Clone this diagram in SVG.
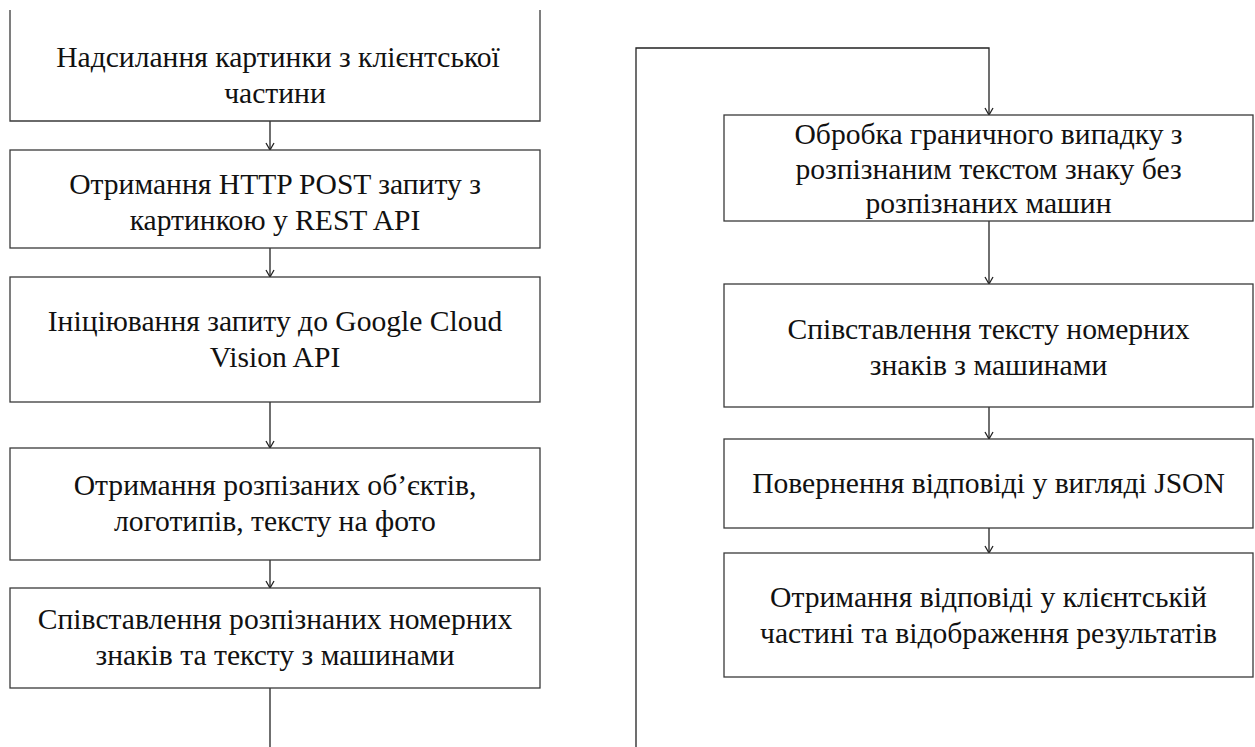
<svg xmlns="http://www.w3.org/2000/svg" width="1255" height="747" viewBox="0 0 1255 747">
  <style>
    .box { fill: #ffffff; stroke: #3a3a3a; stroke-width: 1.3; }
    .lbl { font-family: "Liberation Serif", "Times New Roman", serif; font-size: 29.6px; fill: #111111; text-anchor: middle; }
    .wire { fill: none; stroke: #222222; stroke-width: 1.3; }
  </style>
  <defs>
    <marker id="arrow" markerUnits="userSpaceOnUse" markerWidth="10" markerHeight="10" refX="8" refY="5" orient="auto" viewBox="0 0 10 10">
      <path d="M1,1 L8,5 L1,9" fill="none" stroke="#222222" stroke-width="1.3"/>
    </marker>
  </defs>
  <rect width="1255" height="747" fill="#ffffff"/>

  <!-- connectors -->
  <g id="connectors">
    <path class="wire" d="M270,121 V150" marker-end="url(#arrow)"/>
    <path class="wire" d="M270,248 V277" marker-end="url(#arrow)"/>
    <path class="wire" d="M270,402 V448" marker-end="url(#arrow)"/>
    <path class="wire" d="M270,560 V588" marker-end="url(#arrow)"/>
    <path class="wire" d="M270,688 V747"/>
    <path class="wire" d="M636,747 V48 H989 V115" marker-end="url(#arrow)"/>
    <path class="wire" d="M989,221 V284" marker-end="url(#arrow)"/>
    <path class="wire" d="M989,407 V439" marker-end="url(#arrow)"/>
    <path class="wire" d="M989,528 V553" marker-end="url(#arrow)"/>
  </g>

  <!-- left column -->
  <g id="send-image">
    <path class="box" d="M10,10 V121 H540 V10" style="fill:none"/>
    <text class="lbl" x="278" y="67">Надсилання картинки з клієнтської</text>
    <text class="lbl" x="275" y="103">частини</text>
  </g>
  <g id="receive-post">
    <rect class="box" x="10" y="150" width="530" height="98"/>
    <text class="lbl" x="275" y="194">Отримання HTTP POST запиту з</text>
    <text class="lbl" x="275" y="230">картинкою у REST API</text>
  </g>
  <g id="vision-request">
    <rect class="box" x="10" y="277" width="530" height="125"/>
    <text class="lbl" x="275" y="331">Ініціювання запиту до Google Cloud</text>
    <text class="lbl" x="275" y="367">Vision API</text>
  </g>
  <g id="vision-result">
    <rect class="box" x="10" y="448" width="530" height="112"/>
    <text class="lbl" x="275" y="495">Отримання розпізаних об’єктів,</text>
    <text class="lbl" x="275" y="531">логотипів, тексту на фото</text>
  </g>
  <g id="match-plates">
    <rect class="box" x="10" y="588" width="530" height="100"/>
    <text class="lbl" x="275" y="629">Співставлення розпізнаних номерних</text>
    <text class="lbl" x="275" y="665">знаків та тексту з машинами</text>
  </g>

  <!-- right column -->
  <g id="edge-case">
    <rect class="box" x="724" y="115" width="529" height="106"/>
    <text class="lbl" x="988.5" y="144">Обробка граничного випадку з</text>
    <text class="lbl" x="988.5" y="179">розпізнаним текстом знаку без</text>
    <text class="lbl" x="988.5" y="213">розпізнаних машин</text>
  </g>
  <g id="match-text">
    <rect class="box" x="724" y="284" width="529" height="123"/>
    <text class="lbl" x="988.5" y="339">Співставлення тексту номерних</text>
    <text class="lbl" x="988.5" y="375">знаків з машинами</text>
  </g>
  <g id="json-response">
    <rect class="box" x="724" y="439" width="529" height="89"/>
    <text class="lbl" x="988.5" y="493">Повернення відповіді у вигляді JSON</text>
  </g>
  <g id="client-display">
    <rect class="box" x="724" y="553" width="529" height="124"/>
    <text class="lbl" x="988.5" y="607">Отримання відповіді у клієнтській</text>
    <text class="lbl" x="988.5" y="643">частині та відображення результатів</text>
  </g>
</svg>
